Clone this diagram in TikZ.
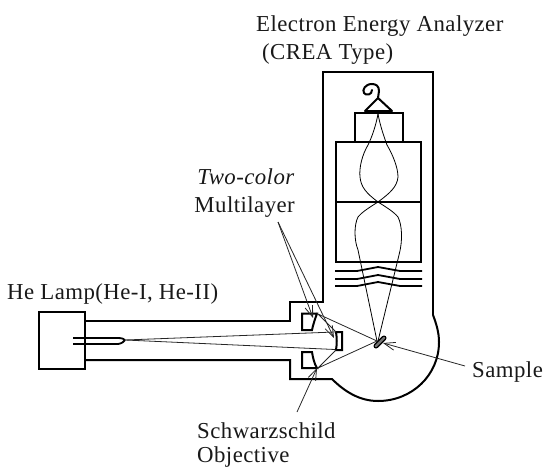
\documentclass[tikz,border=0pt]{standalone}
\usepackage{fontspec}
\setmainfont[LetterSpace=2]{Liberation Serif}
\usetikzlibrary{arrows.meta}
\tikzset{
 wall/.style={line width=2pt,line join=miter},
 ray/.style={line width=0.8pt,black!85},
 lead/.style={line width=0.8pt,black!85,-{Straight Barb[length=11pt,width=8pt,line width=.8pt]}},
 lbl/.style={font=\fontsize{22.8}{26}\selectfont,inner sep=0pt,text=black!90,anchor=base west}
}
\begin{document}
\begin{tikzpicture}[x=1pt,y=-1pt]
\useasboundingbox (0,0) rectangle (545,468);
% housing
\draw[wall] (85,321) -- (290,321) -- (290,302) -- (323,302) -- (323,72) -- (433,72) -- (433,315);
\draw[wall] (85,360) -- (290,360) -- (290,379) -- (332,379)
  .. controls (345,392) and (360,401) .. (378,401)
  .. controls (412,401) and (439,375) .. (439,342)
  .. controls (439,332) and (436,323) .. (433,315);
% lamp
\draw[wall] (39,312) rectangle (85,369);
\draw[line width=1.8pt] (73,338) -- (118,338) .. controls (122,338) and (124,339) .. (125,340);
\draw[line width=1.8pt] (73,344) -- (118,344) .. controls (122,343.5) and (124,341.5) .. (125,340);
% analyzer
\draw[wall] (355,113) rectangle (403,142);
\draw[wall] (336,142) rectangle (421,262);
\draw[wall] (336,202) -- (421,202);
\draw[wall,line cap=round,line join=round] (365,111) -- (378,98) -- (392,111) -- cycle;
\draw[wall,line cap=round] (378,98) -- (379,91) .. controls (379,86) and (376,84) .. (372,84)
  .. controls (365,84) and (362,90) .. (364,93) .. controls (366,96) and (372,95) .. (372,90);
% electron optics
\draw[line width=.8pt] (378,114) .. controls (376,125) and (372,137) .. (368,145)
  .. controls (362,155) and (359,168) .. (360,177) .. controls (361,187) and (366,193) .. (378,202)
  .. controls (370,207) and (362,212) .. (358,217) .. controls (354,225) and (354,240) .. (358,250)
  -- (377,341);
\draw[line width=.8pt] (378,114) .. controls (380,125) and (384,137) .. (387,145)
  .. controls (393,155) and (398,168) .. (398,177) .. controls (397,187) and (390,193) .. (378,202)
  .. controls (386,207) and (394,212) .. (398,217) .. controls (402,225) and (403,240) .. (399,255)
  -- (378,341);
% grids
\foreach \yy in {271,279,286}{
  \draw[line width=1.8pt] (335,\yy) -- (357,\yy) -- (378,\yy-4) -- (400,\yy) -- (422,\yy);
}
% mirrors
\draw[wall] (302,313.5) -- (317,313.5) .. controls (315,319) and (313,325) .. (312,330) -- (302,330) -- cycle;
\draw[wall] (302,352) -- (312,352) .. controls (313,358) and (314,363) .. (317,368) -- (302,368) -- cycle;
\draw[wall] (336,332) -- (342,332) -- (342,350) -- (336,350) .. controls (337,344) and (337,338) .. (336,332) -- cycle;
% sample
\draw[line width=5pt,black,line cap=round] (376,346) -- (384,338);
\draw[line width=2.4pt,black!55,line cap=round] (376,346) -- (384,338);
% rays
\draw[ray] (125,340) -- (335,332);
\draw[ray] (125,340) -- (335,349.5);
\draw[ray] (336,332) -- (318,314) -- (377,341);
\draw[ray] (336,350) -- (318,368) -- (377,341);
% labels
\node[lbl] (ana) at (256,32) {Electron Energy Analyzer};
\node[lbl] (crea) at (262,60) {(CREA Type)};
\node[lbl,anchor=base east] (two) at (295,184) {\textit{Two-color}};
\node[lbl,anchor=base east] (ml) at (295,212) {Multilayer};
\node[lbl] (lamp) at (7,299) {He Lamp(He-I, He-II)};
\node[lbl] (smp) at (472,377) {Sample};
\node[lbl] (sch) at (197,438) {Schwarzschild};
\node[lbl] (obj) at (197,462.5) {Objective};
% leaders
\coordinate (a1) at (278,222);
\coordinate (m1) at (313,318);
\coordinate (m2) at (334,338);
\coordinate (s1) at (465,366);
\coordinate (s2) at (383,343);
\coordinate (o1) at (297,412);
\coordinate (o2) at (317,368);
\draw[lead] (a1) -- (m1);
\draw[lead] (a1) -- (m2);
\draw[lead] (s1) -- (s2);
\draw[lead] (o1) -- (o2);
\end{tikzpicture}
\end{document}
